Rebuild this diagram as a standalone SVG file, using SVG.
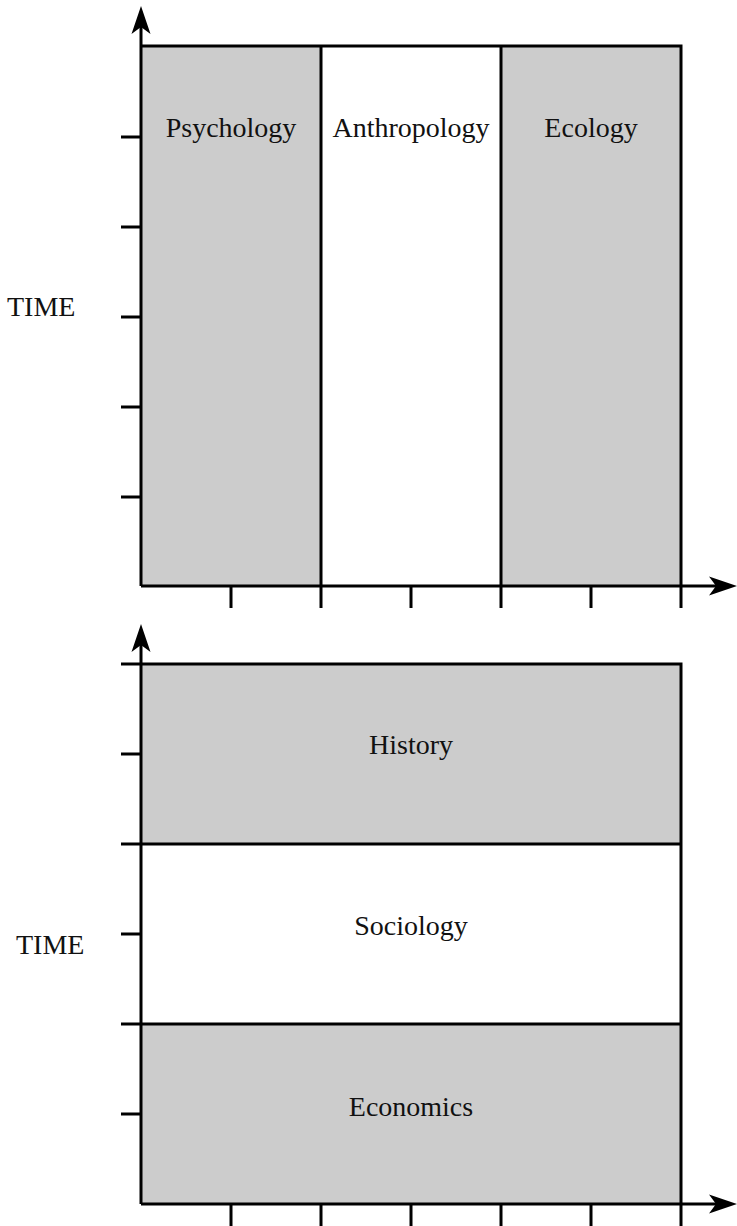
<svg xmlns="http://www.w3.org/2000/svg" width="737" height="1226" viewBox="0 0 737 1226">
<style>
.band{fill:#cccccc;stroke:none}
.ln{stroke:#000;stroke-width:3;fill:none;stroke-linecap:butt}
.lbl{font-family:"Liberation Serif",serif;font-size:28px;fill:#111}
.mid{text-anchor:middle}
</style>
<defs>
<path id="ahUp" d="M0,0 L9.5,28 L0,21 L-9.5,28 Z" fill="#000"/>
<path id="ahRight" d="M0,0 L-28,-9.5 L-21,0 L-28,9.5 Z" fill="#000"/>
</defs>
<rect width="737" height="1226" fill="#fff"/>

<g id="chart-top">
  <g id="psychology">
    <rect class="band" x="141" y="46" width="180" height="540"/>
    <text class="lbl mid" x="231" y="137">Psychology</text>
  </g>
  <g id="anthropology">
    <rect x="321" y="46" width="180" height="540" fill="#fff"/>
    <text class="lbl mid" x="411" y="137">Anthropology</text>
  </g>
  <g id="ecology">
    <rect class="band" x="501" y="46" width="180" height="540"/>
    <text class="lbl mid" x="591" y="137">Ecology</text>
  </g>
  <g id="time-top">
    <text class="lbl" x="7" y="316">TIME</text>
  </g>
</g>

<g id="chart-bottom">
  <g id="history">
    <rect class="band" x="141" y="664" width="540" height="180"/>
    <text class="lbl mid" x="411" y="754">History</text>
  </g>
  <g id="sociology">
    <rect x="141" y="844" width="540" height="180" fill="#fff"/>
    <text class="lbl mid" x="411" y="935">Sociology</text>
  </g>
  <g id="economics">
    <rect class="band" x="141" y="1024" width="540" height="180"/>
    <text class="lbl mid" x="411" y="1116">Economics</text>
  </g>
  <g id="time-bottom">
    <text class="lbl" x="16" y="954">TIME</text>
  </g>
</g>

<g id="connectors">
  <path class="ln" d="M141,46 H681 V586 M321,46 V608 M501,46 V608 M681,586 V608"/>
  <path class="ln" d="M141,586 V24"/>
  <path class="ln" d="M141,586 H716"/>
  <use href="#ahUp" x="141" y="6"/>
  <use href="#ahRight" x="737" y="586"/>
  <path class="ln" d="M121,137 H141 M121,227 H141 M121,317 H141 M121,407 H141 M121,497 H141 M231,586 V608 M411,586 V608 M591,586 V608"/>

  <path class="ln" d="M121,664 H681 V1204 M121,844 H681 M121,1024 H681 M681,1204 V1226"/>
  <path class="ln" d="M141,1204 V642"/>
  <path class="ln" d="M141,1204 H716"/>
  <use href="#ahUp" x="141" y="624"/>
  <use href="#ahRight" x="737" y="1204"/>
  <path class="ln" d="M121,754 H141 M121,934 H141 M121,1114 H141 M231,1204 V1226 M321,1204 V1226 M411,1204 V1226 M501,1204 V1226 M591,1204 V1226"/>
</g>
</svg>
